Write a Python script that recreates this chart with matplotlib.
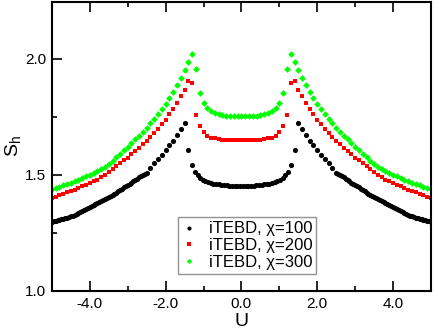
import numpy as np
import matplotlib
matplotlib.use("Agg")
from matplotlib import pyplot as plt
from matplotlib.ticker import MultipleLocator, FormatStrFormatter

plt.rcParams['font.family'] = ['Liberation Sans', 'DejaVu Sans']
plt.rcParams['axes.unicode_minus'] = False

# half curves (U <= 0), the data is symmetric in U
u_300 = [-5.0, -4.9, -4.8, -4.7, -4.6, -4.5, -4.4, -4.3, -4.2, -4.1, -4.0,
         -3.9, -3.8, -3.7, -3.6, -3.5, -3.4, -3.3, -3.2, -3.1, -3.0,
         -2.9, -2.8, -2.7, -2.6, -2.5, -2.4, -2.3, -2.2, -2.1, -2.0,
         -1.9, -1.8, -1.7, -1.6, -1.5, -1.4, -1.3, -1.2, -1.1, -1.0,
         -0.9, -0.8, -0.7, -0.6, -0.5, -0.4, -0.3, -0.2, -0.1, 0.0]
s_300 = [1.438, 1.443, 1.449, 1.455, 1.461, 1.467, 1.473, 1.480, 1.487, 1.494, 1.501,
         1.508, 1.516, 1.525, 1.535, 1.547, 1.561, 1.576, 1.591, 1.606, 1.621,
         1.637, 1.653, 1.669, 1.686, 1.704, 1.722, 1.741, 1.761, 1.782, 1.805,
         1.830, 1.857, 1.886, 1.917, 1.950, 1.985, 2.020, 1.958, 1.855, 1.812,
         1.789, 1.775, 1.767, 1.762, 1.758, 1.756, 1.754, 1.753, 1.753, 1.752]

u_200 = u_300
s_200 = [1.402, 1.407, 1.413, 1.419, 1.425, 1.431, 1.437, 1.444, 1.451, 1.458, 1.465,
         1.472, 1.480, 1.489, 1.499, 1.511, 1.525, 1.539, 1.550, 1.563, 1.575,
         1.589, 1.603, 1.618, 1.632, 1.648, 1.664, 1.682, 1.700, 1.718, 1.737,
         1.762, 1.786, 1.812, 1.838, 1.868, 1.905, 1.895, 1.757, 1.711, 1.687,
         1.669, 1.661, 1.657, 1.654, 1.652, 1.651, 1.650, 1.650, 1.650, 1.650]

u_100 = [-5.00, -4.95, -4.90, -4.85, -4.80, -4.75, -4.70, -4.65, -4.60, -4.55,
         -4.50, -4.45, -4.40, -4.35, -4.30, -4.25, -4.20, -4.15, -4.10, -4.05,
         -4.00, -3.95, -3.90, -3.85, -3.80, -3.75, -3.70, -3.65, -3.60, -3.55,
         -3.50, -3.45, -3.40, -3.35, -3.30, -3.25, -3.20, -3.15, -3.10, -3.05,
         -3.00, -2.95, -2.90, -2.85, -2.80, -2.75, -2.70, -2.65, -2.60, -2.55,
         -2.50, -2.4, -2.3, -2.2, -2.1, -2.0, -1.9, -1.8, -1.7, -1.6, -1.5,
         -1.4, -1.3, -1.22, -1.15, -1.09, -1.02, -0.95, -0.88, -0.81, -0.74,
         -0.67, -0.60, -0.53, -0.46, -0.39, -0.32, -0.25, -0.18, -0.11, -0.04]
s_100 = [1.298, 1.300, 1.302, 1.304, 1.306, 1.308, 1.311, 1.313, 1.316, 1.319,
         1.322, 1.325, 1.328, 1.332, 1.335, 1.339, 1.343, 1.348, 1.353, 1.357,
         1.361, 1.366, 1.370, 1.375, 1.380, 1.385, 1.389, 1.393, 1.397, 1.401,
         1.405, 1.410, 1.414, 1.419, 1.424, 1.430, 1.435, 1.441, 1.446, 1.452,
         1.457, 1.462, 1.467, 1.473, 1.478, 1.483, 1.489, 1.494, 1.499, 1.505,
         1.510, 1.531, 1.551, 1.570, 1.588, 1.607, 1.627, 1.648, 1.673, 1.699, 1.724,
         1.606, 1.541, 1.513, 1.499, 1.487, 1.478, 1.472, 1.468, 1.465, 1.462,
         1.460, 1.459, 1.457, 1.456, 1.455, 1.454, 1.454, 1.453, 1.453, 1.453]

labels = ['iTEBD, χ=100', 'iTEBD, χ=200', 'iTEBD, χ=300']


def mirror(u, s):
    u = np.asarray(u)
    s = np.asarray(s)
    keep = u < 0  # don't duplicate U=0
    return np.concatenate([u, -u[keep][::-1]]), np.concatenate([s, s[keep][::-1]])


fig = plt.figure(figsize=(4.36, 3.36), dpi=100)
ax = fig.add_axes([0.119, 0.134, 0.8695, 0.86])

x, y = mirror(u_100, s_100)
ax.plot(x, y, 'o', color='black', markersize=3.7, markeredgewidth=0, label=labels[0])
x, y = mirror(u_200, s_200)
ax.plot(x, y, 's', color='#ff0000', markersize=3.4, markeredgewidth=0, label=labels[1])
x, y = mirror(u_300, s_300)
ax.plot(x, y, 'D', color='#00ff00', markersize=3.4, markeredgewidth=0, label=labels[2])

ax.set_xlim(-5, 5)
ax.set_ylim(1.0, 2.245)
ax.xaxis.set_major_locator(MultipleLocator(2))
ax.xaxis.set_minor_locator(MultipleLocator(1))
ax.yaxis.set_major_locator(MultipleLocator(0.5))
ax.yaxis.set_minor_locator(MultipleLocator(0.25))
ax.xaxis.set_major_formatter(FormatStrFormatter('%.1f'))
ax.yaxis.set_major_formatter(FormatStrFormatter('%.1f'))
ax.tick_params(which='both', direction='in', top=True, right=False, width=1.2, labelsize=11)
ax.tick_params(which='major', length=7, pad=4)
ax.tick_params(which='minor', length=3.5)
for sp in ax.spines.values():
    sp.set_linewidth(1.5)

ax.set_xlabel('U', fontsize=14, labelpad=2)
ax.set_ylabel('S$_\\mathregular{h}$', fontsize=14, labelpad=1)

leg = ax.legend(loc='lower left', bbox_to_anchor=(0.332, 0.059), fontsize=12,
                frameon=True, fancybox=False, edgecolor='#777777', handlelength=0.8,
                handletextpad=0.8, borderpad=0.25, labelspacing=0.1, borderaxespad=0,
                markerscale=0.8)
leg.get_frame().set_linewidth(1.0)

fig.savefig('out.png', dpi=100)
